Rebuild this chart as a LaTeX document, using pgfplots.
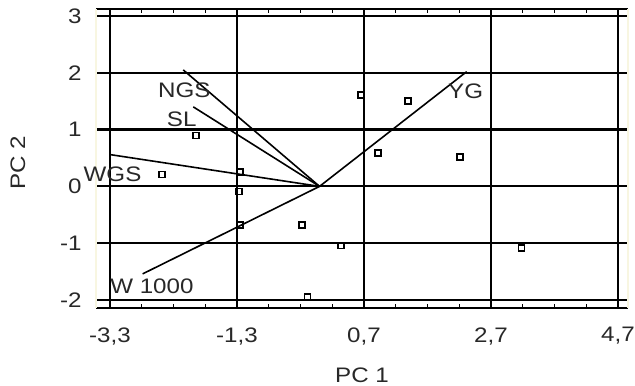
\documentclass[border=0pt]{standalone}
\usepackage{pgfplots}
\pgfplotsset{compat=1.18}
\usepackage{fontspec}
\setmainfont{Liberation Sans}
\definecolor{txt}{RGB}{40,40,40}
\definecolor{faint}{RGB}{248,246,225}
\newcommand\sx[1]{\scalebox{1.15}[1]{#1}}
\begin{document}
\begin{tikzpicture}
\begin{axis}[
  at={(0,0)}, anchor=south west,
  scale only axis, width=532bp, height=299bp,
  xmin=-3.52, xmax=4.857, ymin=-2.141, ymax=3.123,
  separate axis lines,
  axis x line*=box, axis y line*=box,
  x axis line style={black, line width=2.2bp},
  y axis line style={faint, line width=1.5bp},
  xtick={-3.3,-1.3,0.7,2.7,4.7},
  xticklabels={\sx{-3,3},\sx{-1,3},\sx{0,7},\sx{2,7},\sx{4,7}},
  minor xtick={-2.8,-2.3,-1.8,-0.8,-0.3,0.2,1.2,1.7,2.2,3.2,3.7,4.2},
  ytick={-2,-1,0,1,2,3},
  yticklabels={\sx{-2},\sx{-1},\sx{0},\sx{1},\sx{2},\sx{3}},
  tick align=inside,
  major tick length=4.5bp, minor tick length=4.5bp,
  tick style={black, line width=1.4bp},
  grid=major,
  major grid style={black, line width=2.2bp},
  ticklabel style={font=\fontsize{21bp}{24bp}\selectfont, text=txt},
  yticklabel style={xshift=-11bp},
  xticklabel style={anchor=north, yshift=-16bp},
  label style={font=\fontsize{21bp}{24bp}\selectfont, text=txt},
  xlabel={\sx{PC 1}},
  ylabel={\sx{PC 2}},
  xlabel style={at={(axis description cs:0.5,-0.224)}, anchor=center},
  ylabel style={at={(axis description cs:-0.147,0.485)}, anchor=center},
  clip=false,
]
\addplot[black, line width=1.6bp] coordinates {(0,0) (2.317,2.02)};
\addplot[black, line width=1.6bp] coordinates {(0,0) (-2.146,2.05)};
\addplot[black, line width=1.6bp] coordinates {(0,0) (-1.988,1.40)};
\addplot[black, line width=1.6bp] coordinates {(0,0) (-3.30,0.56)};
\addplot[black, line width=1.6bp] coordinates {(0,0) (-2.785,-1.54)};
\addplot[only marks, mark=square, mark size=3bp, black, line width=1.7bp, mark options={fill=white}] coordinates {
 (-1.946,0.895) (-2.48,0.21) (-1.253,0.25) (-1.27,-0.09) (-1.253,-0.68)
 (-0.276,-0.68) (-0.19,-1.95) (0.338,-1.04) (3.18,-1.09) (0.648,1.61)
 (1.388,1.50) (0.92,0.585) (2.207,0.52)
};
\node[text=txt, font=\fontsize{21bp}{24bp}\selectfont] at (axis cs:-2.13,1.70) {\sx{NGS}};
\node[text=txt, font=\fontsize{21bp}{24bp}\selectfont] at (axis cs:-2.17,1.19) {\sx{SL}};
\node[text=txt, font=\fontsize{21bp}{24bp}\selectfont] at (axis cs:-3.26,0.21) {\sx{WGS}};
\node[text=txt, font=\fontsize{21bp}{24bp}\selectfont] at (axis cs:2.30,1.67) {\sx{YG}};
\node[text=txt, font=\fontsize{21bp}{24bp}\selectfont] at (axis cs:-2.64,-1.75) {\sx{W 1000}};
\end{axis}
\pgfresetboundingbox
\path[use as bounding box] (-96bp,-78bp) rectangle (539bp,308bp);
\end{tikzpicture}
\end{document}
